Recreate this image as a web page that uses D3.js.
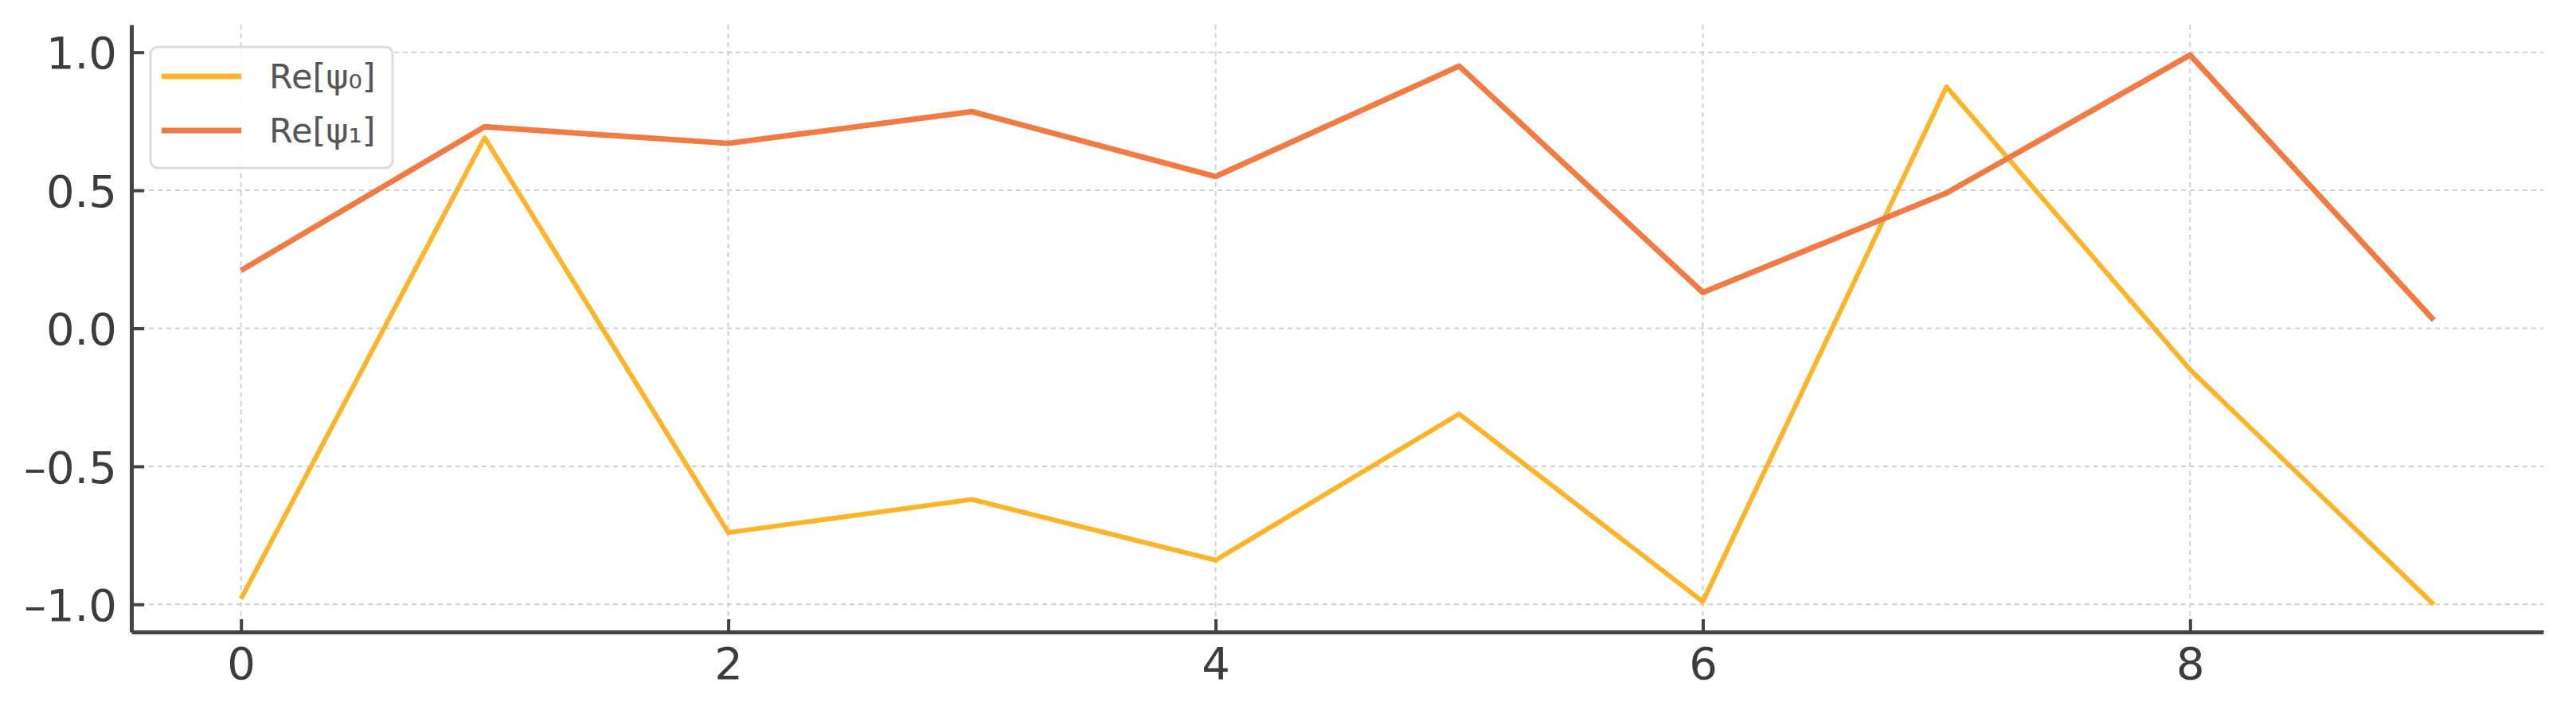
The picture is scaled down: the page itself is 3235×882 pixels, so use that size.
<!DOCTYPE html>
<html>
<head>
<meta charset="utf-8">
<script src="https://cdn.jsdelivr.net/npm/d3@7"></script>
<style>
  html, body { margin: 0; padding: 0; background: #fff; }
  svg { display: block; font-family: "DejaVu Sans", sans-serif; }
</style>
</head>
<body>
<svg id="chart" width="3235" height="882"></svg>
<script>
// data
var steps = [0, 1, 2, 3, 4, 5, 6, 7, 8, 9];
var rePsi0 = [-0.98, 0.69, -0.74, -0.62, -0.84, -0.31, -0.99, 0.875, -0.15, -1.0];
var rePsi1 = [0.21, 0.73, 0.67, 0.785, 0.55, 0.95, 0.13, 0.49, 0.99, 0.03];
var seriesNames = ["Re[ψ₀]", "Re[ψ₁]"];
var seriesColors = ["#FCB42A", "#F07B45"];
var xTicks = [0, 2, 4, 6, 8];
var yTicks = [-1.0, -0.5, 0.0, 0.5, 1.0];

var width = 3235, height = 882;
var margin = { top: 31, right: 41, bottom: 88, left: 165 };

var svg = d3.select("#chart");

var x = d3.scaleLinear().domain([-0.45, 9.45]).range([margin.left, width - margin.right]);
var y = d3.scaleLinear().domain([-1.1, 1.1]).range([height - margin.bottom, margin.top]);

// grid
var grid = svg.append("g").attr("stroke", "#d0d0d0").attr("stroke-width", 2).attr("stroke-dasharray", "6,5");
grid.selectAll("line.h").data(yTicks).enter().append("line")
  .attr("x1", margin.left).attr("x2", width - margin.right)
  .attr("y1", d => y(d)).attr("y2", d => y(d));
grid.selectAll("line.v").data(xTicks).enter().append("line")
  .attr("y1", margin.top).attr("y2", height - margin.bottom)
  .attr("x1", d => x(d)).attr("x2", d => x(d));

// axes (ticks pointing inward, like the original)
var xAxis = d3.axisBottom(x).tickValues(xTicks).tickFormat(d3.format("d")).tickSizeInner(-16).tickSizeOuter(0).tickPadding(17);
var yAxis = d3.axisLeft(y).tickValues(yTicks).tickFormat(d3.format(".1f")).tickSizeInner(-16).tickSizeOuter(0).tickPadding(18);

var gx = svg.append("g").attr("transform", "translate(0," + (height - margin.bottom) + ")").call(xAxis);
var gy = svg.append("g").attr("transform", "translate(" + margin.left + ",0)").call(yAxis);

[gx, gy].forEach(function (g) {
  g.select(".domain").attr("stroke", "#444").attr("stroke-width", 5);
  g.selectAll(".tick line").attr("stroke", "#444").attr("stroke-width", 4);
  g.selectAll(".tick text").attr("fill", "#3c3c3c").attr("font-size", 56)
    .attr("font-family", "DejaVu Sans, sans-serif");
});
gx.selectAll(".tick text").attr("dy", "0.75em");
gy.selectAll(".tick text").attr("dy", "0.36em").text(d => d3.format(".1f")(d).replace("-", "–").replace("−", "–"));

// lines
var line = d3.line().x((d, i) => x(steps[i])).y(d => y(d));
var allSeries = [rePsi0, rePsi1];
var widths = [6, 7];
svg.append("g").selectAll("path").data(allSeries).enter().append("path")
  .attr("d", line)
  .attr("fill", "none")
  .attr("stroke", (d, i) => seriesColors[i])
  .attr("stroke-width", (d, i) => widths[i])
  .attr("stroke-linejoin", "round");

// legend
var legend = svg.append("g");
legend.append("rect")
  .attr("x", 189).attr("y", 59).attr("width", 304).attr("height", 152)
  .attr("rx", 9).attr("fill", "#fff").attr("fill-opacity", 0.9)
  .attr("stroke", "#dcdcdc").attr("stroke-width", 3);
var items = legend.selectAll("g.item").data(seriesNames).enter().append("g")
  .attr("transform", (d, i) => "translate(203," + (96 + i * 68) + ")");
items.append("line").attr("x1", 0).attr("x2", 100)
  .attr("stroke", (d, i) => seriesColors[i]).attr("stroke-width", 7);
items.append("text").attr("x", 135).attr("dy", "0.36em")
  .attr("font-size", 43).attr("fill", "#555").text(d => d);
</script>
</body>
</html>
